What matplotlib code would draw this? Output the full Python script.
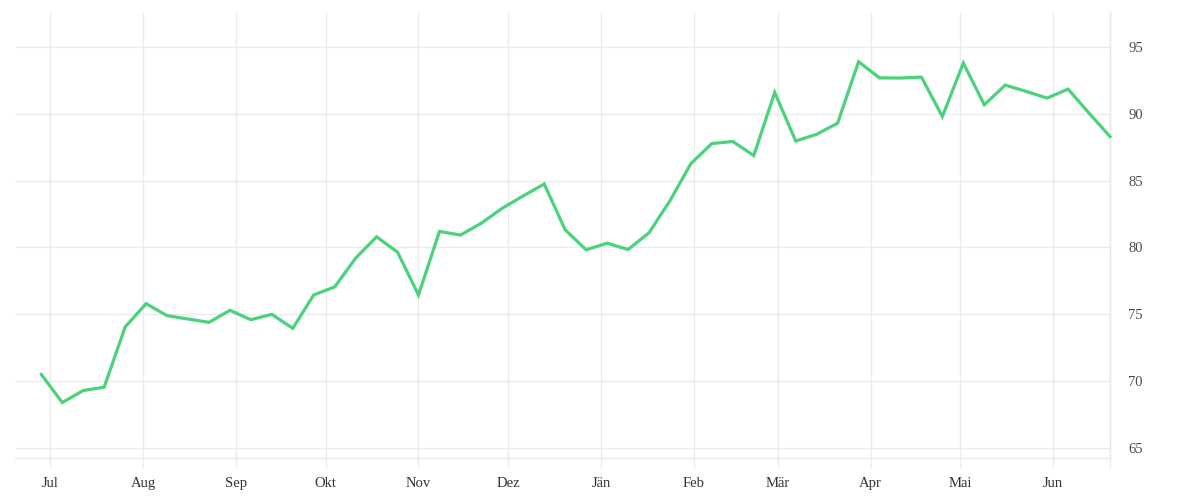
import matplotlib
matplotlib.use("Agg")
import matplotlib.pyplot as plt
import pandas as pd

start_date = "2022-06-28"
n_weeks = 52
values = [70.5, 68.4, 69.3, 69.55, 74.05, 75.8, 74.9, 74.65, 74.4, 75.3,
          74.6, 75.0, 73.95, 76.45, 77.05, 79.2, 80.8, 79.65, 76.45, 81.2,
          80.93, 81.82, 82.94, 83.86, 84.75, 81.32, 79.83, 80.32, 79.85, 81.1,
          83.5, 86.28, 87.78, 87.93, 86.88, 91.6, 87.97, 88.47, 89.3, 93.9,
          92.69, 92.68, 92.75, 89.8, 93.8, 90.68, 92.15, 91.68, 91.18, 91.85,
          90.05, 88.3]
month_labels = ["Jul", "Aug", "Sep", "Okt", "Nov", "Dez", "Jän", "Feb", "Mär", "Apr", "Mai", "Jun"]
y_ticks = [65, 70, 75, 80, 85, 90, 95]

dates = pd.date_range(start_date, periods=n_weeks, freq="7D")

fig = plt.figure(figsize=(12, 5), dpi=100)
ax = fig.add_axes([15/1200, 1 - 458/500, (1110 - 15)/1200, (458 - 12)/500])

grid_c = "#ebebeb"
ax.plot(dates, values, color="#4cd27b", lw=2.3, solid_joinstyle="miter", zorder=3, clip_on=False)

ax.set_ylim(64.25, 97.62)
ax.set_xlim(pd.Timestamp("2022-06-19 05:00"), dates[-1])

month_ticks = pd.date_range("2022-07-01", periods=12, freq="MS")
ax.set_xticks(month_ticks)
ax.set_xticklabels(month_labels)
ax.set_yticks(y_ticks)
ax.set_yticklabels([str(v) for v in y_ticks])

ax.yaxis.tick_right()
ax.grid(True, color=grid_c, lw=1)
ax.set_axisbelow(True)

for s in ["top", "left"]:
    ax.spines[s].set_visible(False)
ax.spines["bottom"].set_color(grid_c)
ax.spines["right"].set_color(grid_c)
ax.spines["bottom"].set_linewidth(1)
ax.spines["right"].set_linewidth(1)
ax.axvline(dates[-1], ymin=-0.022, ymax=1, color=grid_c, lw=1, clip_on=False, zorder=1)

font = ["Liberation Serif", "DejaVu Serif"]
ax.tick_params(axis="x", length=7.2, width=1, color=grid_c, pad=6.5, labelsize=10.5, labelcolor="#333333")
ax.tick_params(axis="y", length=0, pad=13, labelsize=10.5, labelcolor="#4a4a4a")
for lab in ax.get_xticklabels() + ax.get_yticklabels():
    lab.set_fontfamily(font)

fig.savefig("out.png", dpi=100, facecolor="white")
